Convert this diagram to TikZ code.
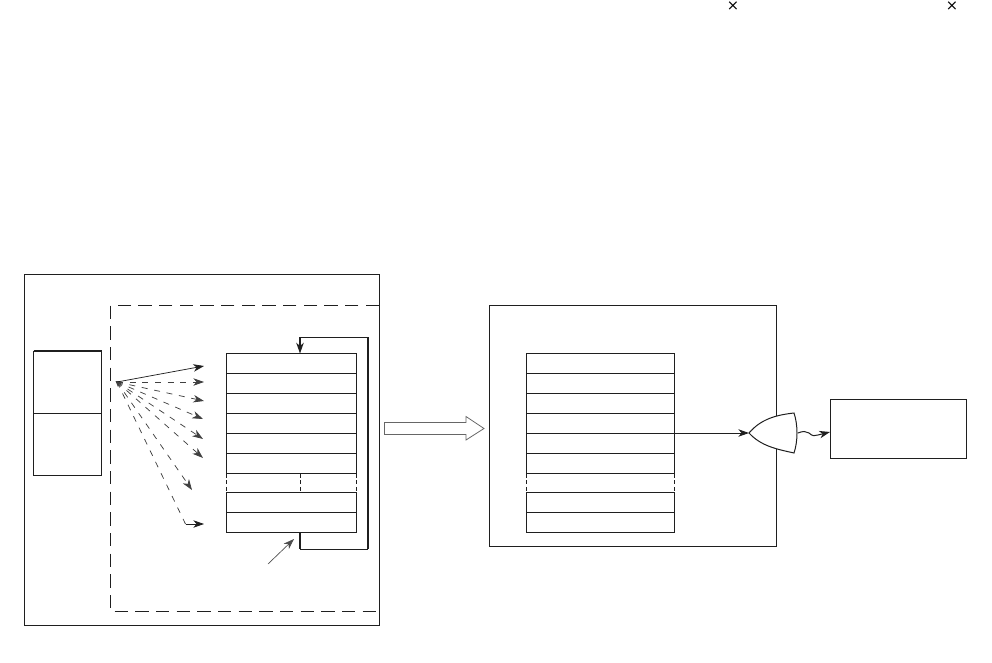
\documentclass[tikz,border=0pt]{standalone}
\usepackage{fontspec}
\newfontfamily\crossfont{DejaVu Sans}
\usetikzlibrary{arrows.meta,calc}
\tikzset{
  x=0.75pt,y=-0.75pt,
  ink/.style={draw=black!88,line width=0.75pt},
  box/.style={ink,fill=none,inner sep=0pt,outer sep=0pt,rectangle},
  rowl/.style={box,minimum width=97.5pt,minimum height=15pt},
  rowr/.style={box,minimum width=111pt,minimum height=15pt},
  tip/.style={-{Stealth[length=8pt,width=5.6pt,inset=2.4pt]}},
  conn/.style={ink,tip},
  dconn/.style={ink,line width=0.55pt,draw=black!75,tip,dash pattern=on 4.5pt off 5pt},
  gapdash/.style={ink,dash pattern=on 3pt off 2pt},
  crossmark/.style={inner sep=0pt,outer sep=0pt,font=\crossfont\fontsize{11}{11}\selectfont}
}
\begin{document}
\begin{tikzpicture}
\useasboundingbox (0,0) rectangle (992,663);
% crosses
\node[crossmark] (x1) at (733,6) {×};
\node[crossmark] (x2) at (952,6) {×};
% outer frame
\coordinate (oa) at (24.5,274.5); \coordinate (ob) at (379.5,625.5);
\draw[ink] (oa) rectangle (ob);
\draw[ink,line width=1.1pt] (24.5,625.5) -- (379.5,625.5);
% dashed frame
\draw[ink,dash pattern=on 10pt off 5.5pt] (379,305.5) -- (110.5,305.5) -- (110.5,611.5) -- (379,611.5);
% left two-part box
\node[box,minimum width=51pt,minimum height=46.5pt,anchor=north west] (m1) at (33.5,351) {};
\node[box,minimum width=51pt,minimum height=46.5pt,anchor=north west] (m2) at (33.5,413) {};
\draw[ink,line width=1.2pt] (m1.north west) -- (m1.north east);
% left stack
\foreach \n/\y in {a/353.5,b/373.5,c/393.5,d/413.5,e/433.5,f/453.5,g/492.5,h/512.5}
  \node[rowl,anchor=north west] (l\n) at (226.5,\y) {};
% right stack
\foreach \n/\y in {a/353.5,b/373.5,c/393.5,d/413.5,e/433.5,f/453.5,g/492.5,h/512.5}
  \node[rowr,anchor=north west] (r\n) at (526.5,\y) {};
% dashed gaps
\coordinate (gm1) at (300,473.5); \coordinate (gm2) at (300,492.5);
\draw[gapdash] (lf.south west) -- (lg.north west);
\draw[gapdash] (gm1) -- (gm2);
\draw[gapdash] (lf.south east) -- (lg.north east);
\draw[gapdash] (rf.south west) -- (rg.north west);
\draw[gapdash] (rf.south east) -- (rg.north east);
% fan
\coordinate (o) at (117,382);
\fill[black!75] (115.5,381) -- (120.5,381) -- (118,387) -- cycle;
\foreach \n/\p in {t2/{204,382},t3/{204,401},t4/{203,419},t5/{203,439},t6/{203,458},t7/{192,490}}
  \coordinate (\n) at (\p);
\coordinate (t1) at (204,366);
\draw[conn,line width=0.55pt] (o) -- (t1);
\foreach \n in {t2,t3,t4,t5,t6,t7} \draw[dconn] (o) -- (\n);
\coordinate (el) at (185.5,524); \coordinate (t8) at (204,524);
\draw[ink,line width=0.55pt,draw=black!75,dash pattern=on 4.5pt off 5pt] (o) -- (el);
\draw[conn,line width=0.6pt] (el) -- (t8);
% feedback
\coordinate (fa) at (300,549); \coordinate (fb) at (368,549);
\coordinate (fc) at (368,337); \coordinate (fd) at (300,337);
\coordinate (top) at (300,353.5); \coordinate (bot) at (300,532.5);
\draw[ink] (bot) -- (fa) -- (fb);
\draw[ink,line width=1.5pt] (fb) -- (fc);
\draw[ink] (fc) -- (fd);
\draw[conn,line width=1.1pt] (fd) -- (top);
\draw[ink,line width=1.4pt] (bot) -- (fa);
\coordinate (pa) at (268,564); \coordinate (pb) at (294,539);
\draw[conn,line width=0.5pt,draw=black!70] (pa) -- (pb);
% hollow arrow
\draw[draw=black!60,line width=0.6pt] (384.5,422.5) -- (466,422.5) -- (466,416.5) -- (484,428.5) -- (466,440) -- (466,434.5) -- (384.5,434.5) -- cycle;
% right frame
\node[box,minimum width=215.25pt,minimum height=180.75pt,anchor=north west] (rf0) at (489.5,305.5) {};
% gate
\coordinate (gi) at (749,433); \coordinate (go) at (798,433);
\draw[ink,fill=white] (gi) .. controls (761,419) and (776,415) .. (794,413)
  .. controls (798,425) and (798,441) .. (794,453)
  .. controls (776,449) and (761,446) .. (gi) -- cycle;
\draw[conn] (674.5,433) -- (gi);
% output box
\node[box,minimum width=102.4pt,minimum height=44.25pt,anchor=north west] (out) at (830,399.5) {};
\coordinate (wv) at (818,435);
\draw[ink] (go) .. controls (803,431) and (806,431) .. (809,433) .. controls (812,436) and (815,436.5) .. (wv);
\draw[conn] (wv) -- (out.west |- 0,432);
\end{tikzpicture}
\end{document}
